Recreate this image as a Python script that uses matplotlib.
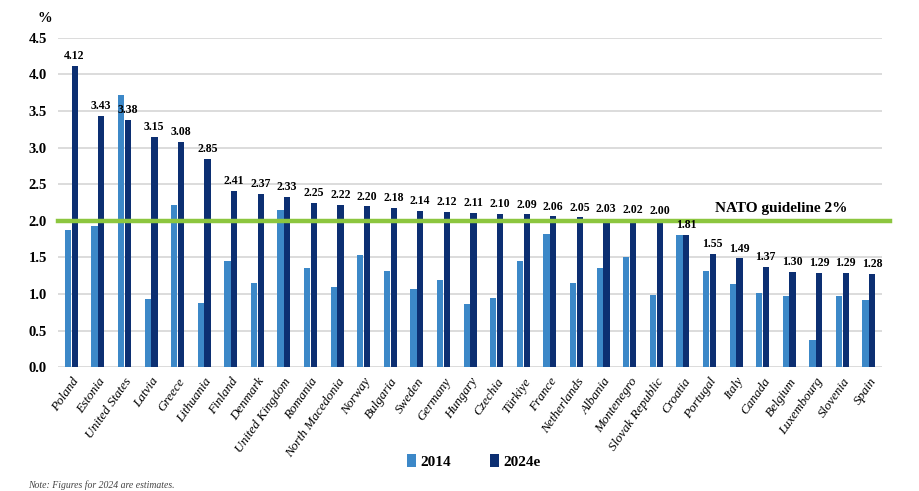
import matplotlib
matplotlib.use("Agg")
import matplotlib.pyplot as plt
import numpy as np

countries = ["Poland", "Estonia", "United States", "Latvia", "Greece", "Lithuania",
             "Finland", "Denmark", "United Kingdom", "Romania", "North Macedonia",
             "Norway", "Bulgaria", "Sweden", "Germany", "Hungary", "Czechia",
             "Türkiye", "France", "Netherlands", "Albania", "Montenegro",
             "Slovak Republic", "Croatia", "Portugal", "Italy", "Canada", "Belgium",
             "Luxembourg", "Slovenia", "Spain"]
v2014 = [1.88, 1.93, 3.72, 0.93, 2.22, 0.88, 1.45, 1.15, 2.15, 1.35, 1.09,
         1.54, 1.31, 1.07, 1.19, 0.86, 0.95, 1.45, 1.82, 1.15, 1.35, 1.51,
         0.99, 1.81, 1.31, 1.14, 1.01, 0.98, 0.37, 0.98, 0.92]
v2024 = [4.12, 3.43, 3.38, 3.15, 3.08, 2.85, 2.41, 2.37, 2.33, 2.25, 2.22,
         2.20, 2.18, 2.14, 2.12, 2.11, 2.10, 2.09, 2.06, 2.05, 2.03, 2.02,
         2.00, 1.81, 1.55, 1.49, 1.37, 1.30, 1.29, 1.29, 1.28]
guideline = 2.0

serif = ["Liberation Serif", "DejaVu Serif"]
c_light = "#3c88c8"
c_dark = "#0c2f72"

fig = plt.figure(figsize=(9.2, 4.91), dpi=100)
ax = fig.add_axes([0.063, 0.252, 0.896, 0.671])

x = np.arange(len(countries))
w = 0.235
ax.bar(x - w / 2 - 0.01, v2014, width=w, color=c_light, label="2014", zorder=2)
ax.bar(x + w / 2 + 0.01, v2024, width=w, color=c_dark, label="2024e", zorder=2)

for xi, v in zip(x, v2024):
    ax.text(xi + w / 2, v + 0.05, f"{v:.2f}", ha="center", va="bottom",
            fontsize=8.5, fontweight="bold", family=serif, zorder=4)

ax.plot([-0.5, 30.8], [guideline, guideline], color="#8cc63f", lw=3.2,
        zorder=3, clip_on=False)
ax.text(26.7, guideline + 0.08, "NATO guideline 2%", ha="center", va="bottom",
        fontsize=11, fontweight="bold", family=serif)

ax.set_xlim(-0.5, 30.5)
ax.set_ylim(0, 4.5)
ax.set_yticks(np.arange(0, 4.51, 0.5))
ax.set_yticklabels([f"{t:.1f}" for t in np.arange(0, 4.51, 0.5)],
                   fontsize=10.5, fontweight="bold", family=serif)
ax.yaxis.grid(True, color="#d6d6d6", lw=1.2, zorder=0)
ax.set_axisbelow(True)
ax.tick_params(length=0, pad=8)
for s in ax.spines.values():
    s.set_visible(False)

ax.set_xticks(x)
ax.set_xticklabels(countries, rotation=55, ha="right", rotation_mode="anchor",
                   fontsize=9.5, style="italic", family=serif)
ax.tick_params(axis="x", pad=6)

fig.text(0.049, 0.962, "%", fontsize=10.5, fontweight="bold", family=serif,
         ha="center", va="center")

leg = fig.legend(loc="center", bbox_to_anchor=(0.515, 0.06), ncol=2, frameon=False,
                 prop={"family": serif, "size": 11, "weight": "bold"},
                 handlelength=0.6, handleheight=0.9, columnspacing=2.5,
                 handletextpad=0.3)

fig.text(0.03, 0.003, "Note: Figures for 2024 are estimates.", fontsize=7,
         family=serif, style="italic", va="bottom", color="#444444")

fig.savefig("out.png", dpi=100)
